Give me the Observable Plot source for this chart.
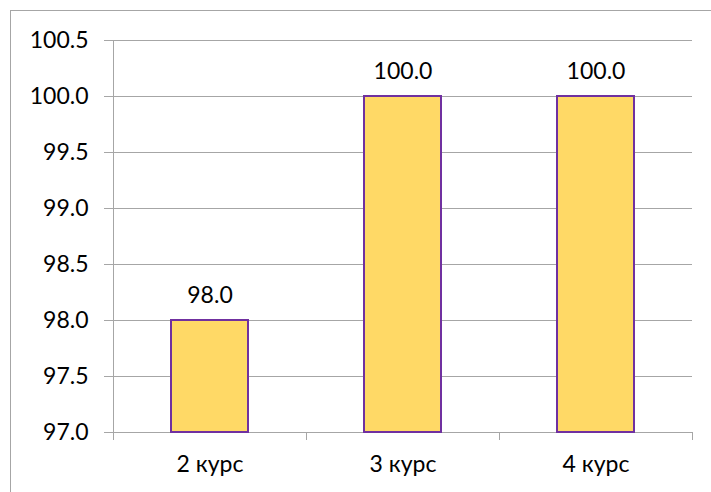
<!DOCTYPE html>
<html><head><meta charset="utf-8">
<script src="https://cdn.jsdelivr.net/npm/d3@7"></script>
<script src="https://cdn.jsdelivr.net/npm/@observablehq/plot@0.6"></script>
<style>
body{margin:0;background:#fff;}
#wrap{position:relative;width:711px;height:492px;overflow:hidden;}
#border{position:absolute;left:10px;top:10px;width:720px;height:500px;border:1px solid #a6a6a6;box-sizing:border-box;}
#wrap svg{position:absolute;left:0;top:0;}
</style></head><body><div id="wrap"><div id="border"></div></div>
<script>
const categories = ["2 курс", "3 курс", "4 курс"];
const values = [98.0, 100.0, 100.0];
const yTicks = [97.0, 97.5, 98.0, 98.5, 99.0, 99.5, 100.0, 100.5];
const yMin = 97.0, yMax = 100.5;

const data = categories.map((c, i) => ({category: c, value: values[i]}));
const fmt = d3.format(".1f");
const gridColor = "#a6a6a6";

function boundaryTicks(index, scales, channels, dimensions) {
  const x = scales.x, y = scales.y;
  const dom = x.domain();
  const bw = typeof x.bandwidth === "function" ? x.bandwidth() : x.bandwidth;
  const step = dom.length > 1 ? x(dom[1]) - x(dom[0]) : bw;
  const gap = step - bw;
  const xs = dom.map(d => x(d) - gap / 2);
  xs.push(x(dom[dom.length - 1]) + bw + gap / 2);
  const y0 = y(yMin), yTop = y(yMax);
  const g = d3.create("svg:g").attr("stroke", gridColor).attr("stroke-width", 1).attr("fill", "none");
  g.selectAll("line").data(xs).join("line")
    .attr("x1", d => Math.round(d) + 0.5).attr("x2", d => Math.round(d) + 0.5)
    .attr("y1", (d, i) => i === 0 ? yTop : y0).attr("y2", y0 + 8);
  return g.node();
}

const chart = Plot.plot({
  width: 711, height: 492,
  marginLeft: 113, marginRight: 19, marginTop: 40, marginBottom: 60,
  style: {fontFamily: "Lato, 'Open Sans', sans-serif", fontSize: "23px", color: "#000", background: "transparent", overflow: "visible"},
  x: {domain: categories, paddingInner: 0.6, paddingOuter: 0.3, label: null},
  y: {domain: [yMin, yMax], label: null},
  marks: [
    Plot.gridY({ticks: yTicks, stroke: gridColor, strokeOpacity: 1}),
    Plot.axisY({ticks: yTicks, tickSize: 9, tickPadding: 16, tickFormat: fmt, stroke: gridColor, strokeOpacity: 1, fill: "#000", label: null}),
    Plot.axisX({tickSize: 0, tickPadding: 23, label: null, fill: "#000"}),
    boundaryTicks,
    Plot.barY(data, {x: "category", y1: yMin, y2: "value", fill: "#FFD966", stroke: "#7030A0", strokeWidth: 2}),
    Plot.text(data, {x: "category", y: "value", text: d => fmt(d.value), lineAnchor: "bottom", dy: -18, fill: "#000"})
  ]
});
document.getElementById("wrap").appendChild(chart);
</script>
</body></html>
